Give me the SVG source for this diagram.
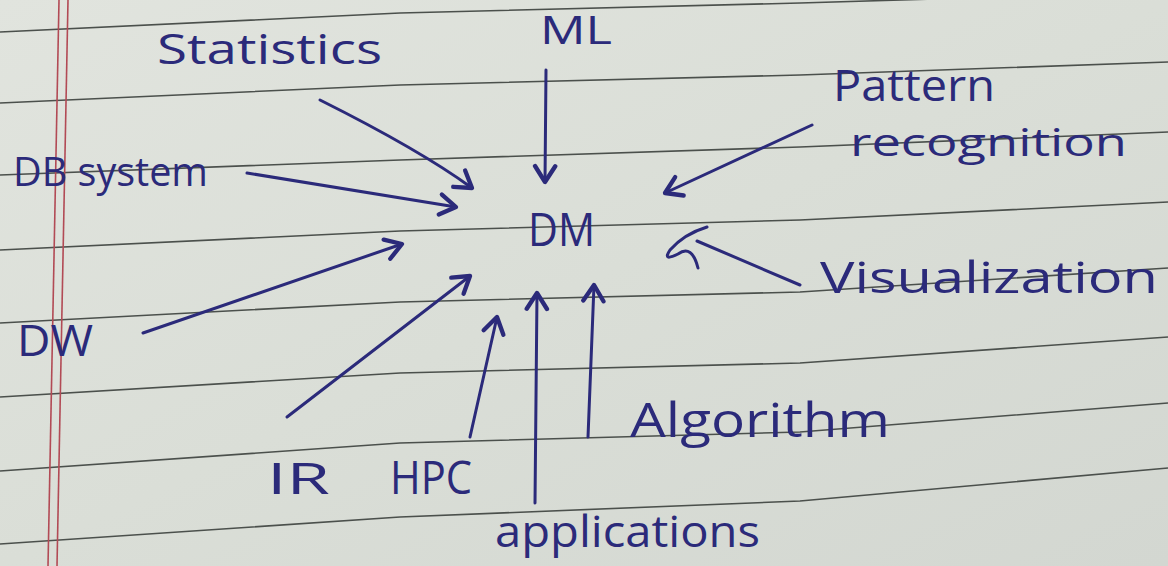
<svg xmlns="http://www.w3.org/2000/svg" width="1168" height="566" viewBox="0 0 1168 566">
  <defs>
    <linearGradient id="paper" x1="0" y1="0" x2="1" y2="1">
      <stop offset="0" stop-color="#e1e4de"/>
      <stop offset="0.5" stop-color="#dadeD7"/>
      <stop offset="1" stop-color="#d3d7d1"/>
    </linearGradient>
    <marker id="head" viewBox="-13 -9 15 18" markerWidth="22" markerHeight="26" markerUnits="userSpaceOnUse" refX="0" refY="0" orient="auto">
      <path d="M-11,-7 L0,0 L-11,7" fill="none" stroke="#2b2a7a" stroke-width="3" stroke-linecap="round" stroke-linejoin="round"/>
    </marker>
    <style>
      .rule { fill: none; stroke: #4b504c; stroke-width: 1.6; }
      .margin { fill: none; stroke: #b24a55; stroke-width: 1.6; }
      .ink { fill: none; stroke: #2b2a7a; stroke-width: 3; stroke-linecap: round; stroke-linejoin: round; }
      .arrow { marker-end: url(#head); }
      .label { fill: #2b2a7a; font-family: "Open Sans", "Liberation Sans", sans-serif; font-weight: 400; }
    </style>
  </defs>

  <!-- ruled notebook paper -->
  <rect x="0" y="0" width="1168" height="566" fill="url(#paper)"/>
  <g id="rules">
    <path class="rule" d="M0,32 L400,13 L800,3 L1168,-8"/>
    <path class="rule" d="M0,103 L400,85 L800,75 L1168,62"/>
    <path class="rule" d="M0,175 L400,160 L800,147 L1168,132"/>
    <path class="rule" d="M0,250 L400,231 L800,220 L1168,202"/>
    <path class="rule" d="M0,323 L400,302 L800,292 L1168,268"/>
    <path class="rule" d="M0,397 L400,373 L800,363 L1168,337"/>
    <path class="rule" d="M0,471 L400,443 L800,432 L1168,403"/>
    <path class="rule" d="M0,544 L400,517 L800,501 L1168,468"/>
  </g>
  <g id="margin">
    <path class="margin" d="M59,0 L48,566"/>
    <path class="margin" d="M68,0 L57,566"/>
  </g>

  <!-- topics around the centre -->
  <g id="node-dm"><text class="label" x="528" y="246" font-size="46" textLength="67" lengthAdjust="spacingAndGlyphs">DM</text></g>
  <g id="node-statistics"><text class="label" x="157" y="64" font-size="42" textLength="225" lengthAdjust="spacingAndGlyphs">Statistics</text></g>
  <g id="node-ml"><text class="label" x="540" y="44" font-size="38" textLength="72" lengthAdjust="spacingAndGlyphs">ML</text></g>
  <g id="node-pattern">
    <text class="label" x="833" y="101" font-size="44" textLength="162" lengthAdjust="spacingAndGlyphs">Pattern</text>
    <text class="label" x="850" y="156" font-size="38" textLength="277" lengthAdjust="spacingAndGlyphs">recognition</text>
  </g>
  <g id="node-db"><text class="label" x="13" y="186" font-size="40" textLength="195" lengthAdjust="spacingAndGlyphs">DB system</text></g>
  <g id="node-dw"><text class="label" x="17" y="356" font-size="44" textLength="76" lengthAdjust="spacingAndGlyphs">DW</text></g>
  <g id="node-visualization"><text class="label" x="820" y="293" font-size="44" textLength="338" lengthAdjust="spacingAndGlyphs">Visualization</text></g>
  <g id="node-ir"><text class="label" x="267" y="494" font-size="44" textLength="63" lengthAdjust="spacingAndGlyphs">IR</text></g>
  <g id="node-hpc"><text class="label" x="390" y="494" font-size="46" textLength="82" lengthAdjust="spacingAndGlyphs">HPC</text></g>
  <g id="node-algorithm"><text class="label" x="630" y="437" font-size="48" textLength="260" lengthAdjust="spacingAndGlyphs">Algorithm</text></g>
  <g id="node-applications"><text class="label" x="495" y="547" font-size="44" textLength="265" lengthAdjust="spacingAndGlyphs">applications</text></g>

  <!-- arrows into DM -->
  <g id="connectors">
    <path class="ink arrow" d="M320,100 Q420,150 472,188"/>
    <path class="ink arrow" d="M546,70 L545,182"/>
    <path class="ink arrow" d="M812,125 L665,193"/>
    <path class="ink arrow" d="M247,173 Q380,195 456,207"/>
    <path class="ink arrow" d="M143,333 L402,244"/>
    <path class="ink arrow" d="M287,417 L470,276"/>
    <path class="ink arrow" d="M470,437 L497,317"/>
    <path class="ink arrow" d="M535,503 L537,293"/>
    <path class="ink arrow" d="M588,437 L594,285"/>
    <path class="ink" d="M800,285 L697,241"/>
    <path class="ink" d="M707,227 Q684,234 670,250 Q662,262 678,254 Q692,244 698,268"/>
  </g>
</svg>
